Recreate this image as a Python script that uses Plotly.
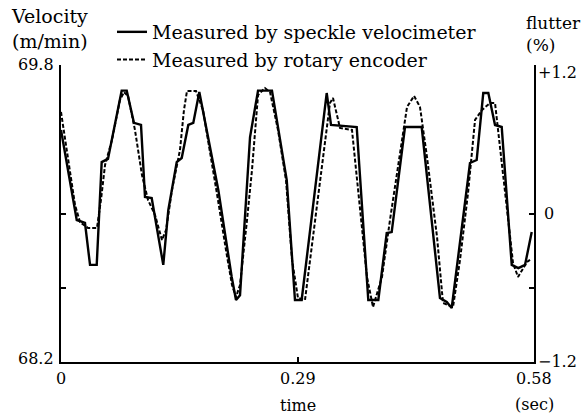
import plotly.graph_objects as go

# ---- data ----
t_speckle = [0.0, 0.0151, 0.0193, 0.0294, 0.0356, 0.0438, 0.0499, 0.0576, 0.0744, 0.0806,
             0.0895, 0.0981, 0.1030, 0.1112, 0.1254, 0.1316, 0.1419, 0.1480, 0.1561, 0.1622,
             0.1696, 0.1929, 0.2093, 0.2146, 0.2195, 0.2318, 0.2416, 0.2587, 0.2768, 0.2869,
             0.2951, 0.3258, 0.3311, 0.3626, 0.3768, 0.3891, 0.3994, 0.4055, 0.4218, 0.4423,
             0.4647, 0.4730, 0.4791, 0.5015, 0.5097, 0.5178, 0.5240, 0.5322, 0.5404, 0.5527,
             0.5608, 0.5690, 0.5772]
v_speckle = [69.450, 69.073, 68.965, 68.949, 68.723, 68.723, 69.277, 69.294, 69.662, 69.662,
             69.488, 69.477, 69.089, 69.083, 68.723, 69.019, 69.277, 69.299, 69.477, 69.488,
             69.654, 69.127, 68.658, 68.534, 68.560, 69.412, 69.662, 69.662, 69.180, 68.534,
             68.534, 69.649, 69.477, 69.466, 68.534, 68.534, 68.895, 68.900, 69.466, 69.466,
             68.545, 68.523, 68.491, 69.272, 69.288, 69.649, 69.649, 69.477, 69.466, 68.723,
             68.706, 68.723, 68.900]

t_encoder = [0.0, 0.0086, 0.0172, 0.0233, 0.0331, 0.0441, 0.0490, 0.0540, 0.0625, 0.0723,
             0.0773, 0.0822, 0.0907, 0.0993, 0.1067, 0.1153, 0.1238, 0.1288, 0.1361, 0.1459,
             0.1508, 0.1545, 0.1655, 0.1741, 0.1827, 0.1925, 0.2023, 0.2097, 0.2146, 0.2195,
             0.2281, 0.2342, 0.2416, 0.2501, 0.2563, 0.2661, 0.2759, 0.2833, 0.2906, 0.2992,
             0.3090, 0.3200, 0.3298, 0.3335, 0.3421, 0.3568, 0.3630, 0.3752, 0.3826, 0.3936,
             0.4034, 0.4157, 0.4243, 0.4329, 0.4402, 0.4488, 0.4611, 0.4684, 0.4807, 0.4893,
             0.4991, 0.5077, 0.5163, 0.5261, 0.5322, 0.5383, 0.5469, 0.5543, 0.5604, 0.5714,
             0.5751]
v_encoder = [69.547, 69.288, 69.046, 68.954, 68.922, 68.922, 69.073, 69.261, 69.396, 69.611,
             69.654, 69.633, 69.450, 69.207, 69.073, 68.992, 68.857, 68.911, 69.127, 69.342,
             69.558, 69.660, 69.660, 69.558, 69.342, 69.073, 68.803, 68.615, 68.550, 68.615,
             68.965, 69.234, 69.638, 69.676, 69.654, 69.450, 69.180, 68.750, 68.545, 68.534,
             68.873, 69.256, 69.595, 69.622, 69.461, 69.450, 69.180, 68.658, 68.496, 68.658,
             68.965, 69.326, 69.574, 69.633, 69.574, 69.304, 68.873, 68.518, 68.496, 68.750,
             69.110, 69.504, 69.558, 69.595, 69.595, 69.358, 69.019, 68.733, 68.658, 68.739,
             68.750]

v_range = [68.2, 69.8]
v_ticks = [68.2, 68.6, 69.0, 69.8]
v_ticklabels = ["68.2", "", "", "69.8"]
f_range = [-1.2, 1.2]
f_ticks = [-1.2, -0.6, 0.0, 1.2]
f_ticklabels = ["\u22121.2", "", "0", "+1.2"]
t_range = [0, 0.58]
t_ticks = [0, 0.29, 0.58]
t_ticklabels = ["0", "0.29", "0.58"]

FONT = "DejaVu Serif"
NUMSIZE = 16
TXTSIZE = 19

fig = go.Figure()
fig.add_trace(go.Scatter(x=t_speckle, y=v_speckle, mode="lines",
                         name="Measured by speckle velocimeter",
                         line=dict(color="black", width=2.4)))
fig.add_trace(go.Scatter(x=t_encoder, y=v_encoder, mode="lines",
                         name="Measured by rotary encoder",
                         line=dict(color="black", width=2, dash="4px,2px")))
# attach the flutter axis
fig.add_trace(go.Scatter(x=[None], y=[None], yaxis="y2", showlegend=False,
                         hoverinfo="skip"))

ann = []
for v, lab in zip(v_ticks, v_ticklabels):
    if lab:
        ann.append(dict(x=0, xref="paper", y=v, yref="y", text=lab, showarrow=False,
                        xanchor="right", yanchor="middle", xshift=-5,
                        yshift=(4 if v == v_range[0] else 1),
                        font=dict(family=FONT, size=NUMSIZE, color="black")))
for f, lab in zip(f_ticks, f_ticklabels):
    if lab:
        ann.append(dict(x=1, xref="paper", y=f, yref="y2", text=lab, showarrow=False,
                        xanchor="left", yanchor="middle",
                        xshift=(8 if f == 0 else 2),
                        yshift=(-7 if f == f_range[1] else (1 if f == f_range[0] else 0)),
                        font=dict(family=FONT, size=NUMSIZE, color="black")))
for t, lab in zip(t_ticks, t_ticklabels):
    ann.append(dict(x=t, xref="x", y=0, yref="paper", text=lab, showarrow=False,
                    xanchor="center", yanchor="top", yshift=-5,
                    font=dict(family=FONT, size=NUMSIZE, color="black")))
ann += [
    dict(x=t_range[1], xref="x", y=0, yref="paper", text="(sec)", showarrow=False,
         xanchor="center", yanchor="top", yshift=-31,
         font=dict(family=FONT, size=NUMSIZE, color="black")),
    dict(x=0.29, xref="x", y=0, yref="paper", text="time", showarrow=False,
         xanchor="center", yanchor="top", yshift=-32,
         font=dict(family=FONT, size=NUMSIZE, color="black")),
    dict(x=0, xref="paper", y=1, yref="paper", text="Velocity<br>(m/min)",
         showarrow=False, xanchor="left", yanchor="bottom", xshift=-52, yshift=11,
         align="left", font=dict(family=FONT, size=19, color="black")),
    dict(x=1, xref="paper", y=1, yref="paper", text="flutter<br>(%)",
         showarrow=False, xanchor="left", yanchor="bottom", xshift=-10, yshift=8,
         align="left", font=dict(family=FONT, size=17, color="black")),
]

axis_common = dict(showgrid=False, zeroline=False, showline=True, linecolor="black",
                   linewidth=1.5, ticks="inside", ticklen=5, tickcolor="black",
                   tickwidth=1.5, showticklabels=False)

fig.update_layout(
    width=588, height=415,
    margin=dict(l=61, r=54, t=65, b=53, autoexpand=False),
    paper_bgcolor="white", plot_bgcolor="white",
    font=dict(family=FONT, size=TXTSIZE, color="black"),
    xaxis=dict(range=t_range, tickvals=t_ticks, automargin=False, **axis_common),
    yaxis=dict(range=v_range, tickvals=v_ticks, automargin=False, **axis_common),
    yaxis2=dict(range=f_range, tickvals=f_ticks, overlaying="y", side="right",
                automargin=False, **axis_common),
    showlegend=True,
    legend=dict(x=(112 - 61) / 473, y=1 + 52 / 297,
                xanchor="left", yanchor="top", bgcolor="rgba(0,0,0,0)",
                font=dict(family=FONT, size=TXTSIZE, color="black"),
                tracegroupgap=0, itemwidth=30),
    annotations=ann,
)

fig.write_html("out.html")
